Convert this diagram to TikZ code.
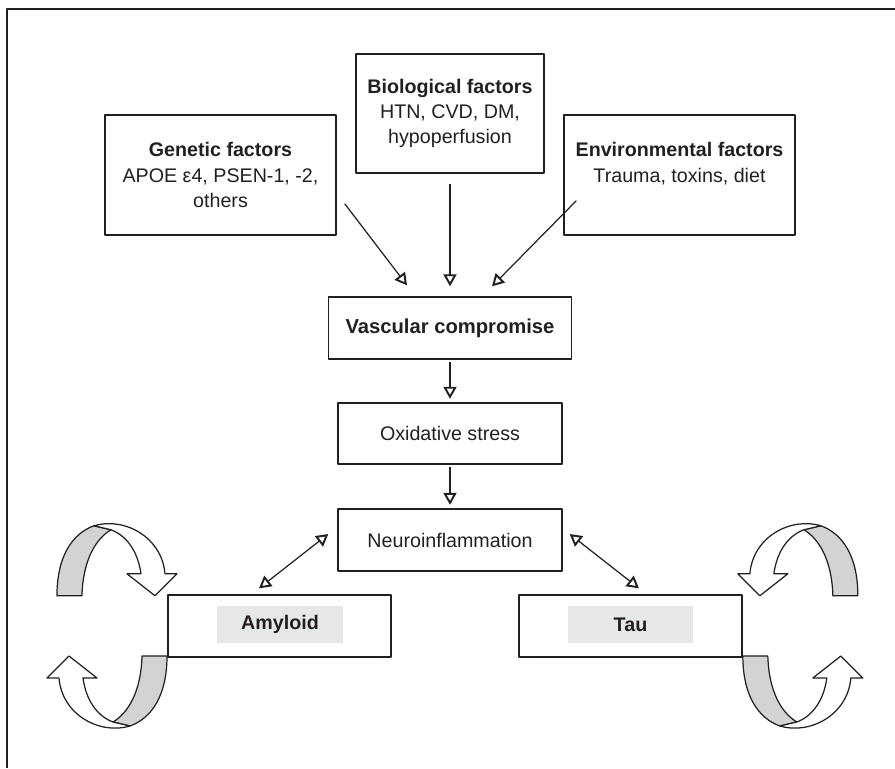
\documentclass[tikz,border=0pt]{standalone}
\usepackage{fontspec}
\setmainfont{Liberation Sans}
\usepackage{tikz, xcolor}
\usetikzlibrary{arrows.meta}

\definecolor{ink}{HTML}{231F20}
\definecolor{ribbon}{HTML}{D1D3D4}
\definecolor{tag}{HTML}{E6E7E8}

% twisted u-turn arrow, drawn for the lower left corner
\newcommand{\uturn}{%
  \filldraw [fill=ribbon] (142, 656) -- (167, 656) .. controls (167, 695) and (152, 718) .. (130, 726)
    -- (113, 722) .. controls (128, 713) and (141, 692) .. (142, 656) -- cycle;
  \filldraw [fill=white] (130, 726) .. controls (100, 735) and (62, 715) .. (59, 678)
    -- (47, 678) -- (69, 656) -- (97, 678) -- (83, 678)
    .. controls (86, 700) and (97, 716) .. (113, 722) -- cycle;
}

\begin{document}
\begin{tikzpicture}[x=.02cm, y=-.02cm, color=ink, line width=.7pt, line join=round,
    >={Triangle[open, length=.24cm, width=.26cm, line width=1.1pt]},
    box/.style={draw, line width=.8pt, inner sep=0, align=center, font=\fontsize{11.2}{14.4}\selectfont},
    tag/.style={fill=tag, minimum width=2.52cm, minimum height=.74cm, font=\bfseries\fontsize{11.2}{13}\selectfont}]
    \useasboundingbox (0, 0) rectangle (895, 768);
    \draw [line width=.85pt] (7, 768) to (7, 9) to (895, 9);

    \node [box, minimum width=4.62cm, minimum height=2.4cm] (genetic) at (220.5, 175)
      {\textbf{Genetic factors}\\APOE ε4, PSEN-1, -2,\\others};
    \node [box, minimum width=3.76cm, minimum height=2.38cm] (bio) at (450, 113.5)
      {\textbf{Biological factors}\\HTN, CVD, DM,\\hypoperfusion};
    \node [box, minimum width=4.62cm, minimum height=2.4cm] (env) at (679.5, 175)
      {\textbf{Environmental factors}\\Trauma, toxins, diet\\\mbox{}};

    \node [box, minimum width=4.86cm, minimum height=1.24cm, font=\bfseries\fontsize{11.5}{14}\selectfont]
      (vasc) at (450, 328) {Vascular compromise};
    \node [box, minimum width=4.48cm, minimum height=1.22cm] (oxid) at (450, 433.5) {Oxidative stress};
    \node [box, minimum width=4.48cm, minimum height=1.24cm] (neuro) at (450, 540) {Neuroinflammation};

    \node [box, minimum width=4.46cm, minimum height=1.24cm] (amyloid) at (279.5, 626) {};
    \node [tag] (amyloidtag) at (280, 624.5) {Amyloid};
    \node [box, minimum width=4.46cm, minimum height=1.24cm] (tau) at (630.5, 626) {};
    \node [tag] (tautag) at (630.5, 624.5) {Tau};

    \draw [->] ([shift={(8, -32)}]genetic.south east) to ([shift={(-43, -11)}]vasc.north);
    \draw [->, shorten <=.2cm, shorten >=.2cm] (bio.south) to (vasc.north);
    \draw [->] ([shift={(13, -35)}]env.south west) to ([shift={(42, -10)}]vasc.north);
    \draw [->, shorten <=.04cm, shorten >=.07cm] (vasc) to (oxid);
    \draw [->, shorten <=.04cm, shorten >=.07cm] (oxid) to (neuro);

    \draw [<->] ([shift={(-9, -6)}]neuro.west) to ([shift={(-20.5, -6)}]amyloid.north);
    \draw [<->] ([shift={(7, -6)}]neuro.east) to ([shift={(8.5, -6)}]tau.north);

    \uturn
    \begin{scope}[shift={(4.48cm, -25.04cm)}, scale=-1]
      \uturn
    \end{scope}
    \begin{scope}[xshift=18.2cm, xscale=-1]
      \uturn
    \end{scope}
    \begin{scope}[shift={(13.82cm, -25.04cm)}, yscale=-1]
      \uturn
    \end{scope}
  \end{tikzpicture}
\end{document}
